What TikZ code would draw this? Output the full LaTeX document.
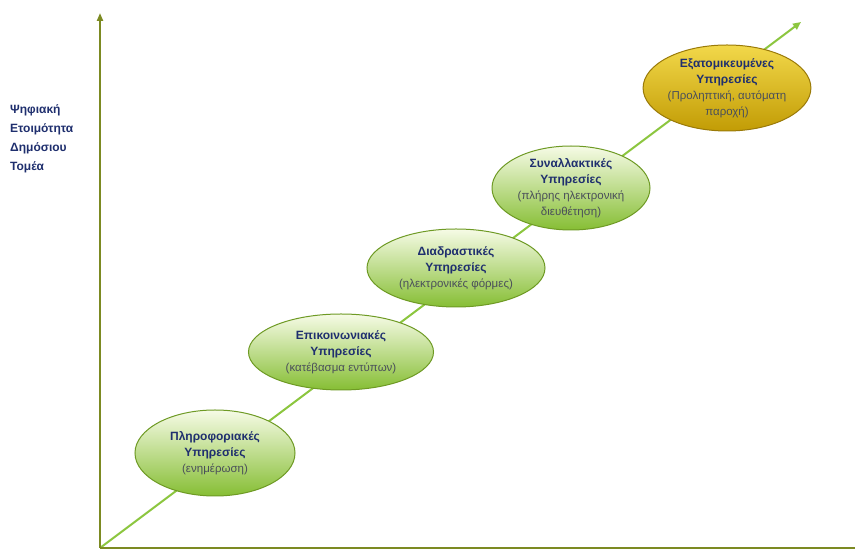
\documentclass[tikz,border=0pt]{standalone}
\usepackage{fontspec}
\setmainfont{Liberation Sans}
\usetikzlibrary{shapes.geometric,arrows.meta}
\definecolor{axisol}{HTML}{7C8A22}
\definecolor{diag}{HTML}{8CC63F}
\definecolor{navy}{HTML}{1F2F6E}
\definecolor{subgray}{HTML}{4A4F5A}
\definecolor{gtop}{HTML}{F6FBE6}
\definecolor{gbot}{HTML}{86BE34}
\definecolor{gborder}{HTML}{6E9A24}
\definecolor{ytop}{HTML}{F2D84A}
\definecolor{ybot}{HTML}{C29C05}
\definecolor{yborder}{HTML}{9A7A08}
\newcommand\subtxt[1]{{\fontsize{11.5}{16}\selectfont\mdseries\color{subgray}#1}}
\tikzset{
  stage/.style={ellipse, draw=gborder, line width=1pt, top color=gtop, bottom color=gbot,
    inner sep=0pt, align=center, text=navy, font=\fontsize{12}{16}\selectfont\bfseries},
  goldstage/.style={stage, draw=yborder, top color=ytop, bottom color=ybot}
}
\begin{document}
\begin{tikzpicture}[x=1pt,y=1pt]
\useasboundingbox (0,0) rectangle (855,551);
\fill[white] (0,0) rectangle (855,551);
\coordinate (o) at (100,3);
\coordinate (ytop) at (100,538);
\coordinate (xend) at (855,3);
\coordinate (dtip) at (801,529);
\draw[diag, line width=2pt, -{Triangle[length=8pt,width=7pt]}] (o) -- (dtip);
\draw[axisol, line width=2pt, -{Triangle[length=8pt,width=6pt]}] (o) -- (ytop);
\draw[axisol, line width=2pt] (o) -- (xend);
\node[stage, minimum width=160pt, minimum height=86pt] (s1) at (215,98)
  {Πληροφοριακές\\Υπηρεσίες\\\subtxt{(ενημέρωση)}};
\node[stage, minimum width=185pt, minimum height=76pt] (s2) at (341,199)
  {Επικοινωνιακές\\Υπηρεσίες\\\subtxt{(κατέβασμα εντύπων)}};
\node[stage, minimum width=178pt, minimum height=78pt] (s3) at (456,283)
  {Διαδραστικές\\Υπηρεσίες\\\subtxt{(ηλεκτρονικές φόρμες)}};
\node[stage, minimum width=158pt, minimum height=82pt] (s4) at (571,363)
  {Συναλλακτικές\\Υπηρεσίες\\\subtxt{(πλήρης ηλεκτρονική}\\\subtxt{διευθέτηση)}};
\node[goldstage, minimum width=166pt, minimum height=86pt] (s5) at (727,463)
  {Εξατομικευμένες\\Υπηρεσίες\\\subtxt{(Προληπτική, αυτόματη}\\\subtxt{παροχή)}};
\node[anchor=north west, align=left, text=navy,
  font=\fontsize{12}{19}\selectfont\bfseries, inner sep=0pt] (lbl) at (10,447)
  {Ψηφιακή\\Ετοιμότητα\\Δημόσιου\\Τομέα};
\end{tikzpicture}
\end{document}
